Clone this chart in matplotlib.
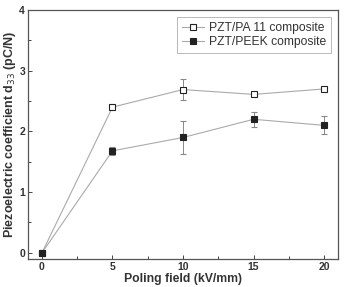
import numpy as np
import matplotlib
matplotlib.use("Agg")
import matplotlib.pyplot as plt
from matplotlib.ticker import MultipleLocator
from matplotlib.lines import Line2D

plt.rcParams['font.family'] = ['Liberation Sans', 'DejaVu Sans']

# data
field = [0, 5, 10, 15, 20]
pa11 = [0, 2.40, 2.69, 2.61, 2.70]
pa11_err = [0, 0.02, 0.18, 0.03, 0.02]
peek = [0, 1.68, 1.90, 2.20, 2.10]
peek_err = [0, 0.07, 0.27, 0.12, 0.15]
labels = ['PZT/PA 11 composite', 'PZT/PEEK composite']

fig = plt.figure(figsize=(3.44, 2.87), dpi=100)
ax = fig.add_axes([0.081, 0.098, 0.902, 0.867])

style = dict(color='#aaaaaa', lw=0.8, marker='s', ms=3.8, mec='#222222', mew=0.8)
ax.errorbar(field, pa11, yerr=pa11_err, mfc='white', ecolor='#888888',
            elinewidth=0.7, capsize=2, capthick=0.7, **style)
ax.errorbar(field, peek, yerr=peek_err, mfc='#222222', ecolor='#888888',
            elinewidth=0.7, capsize=2, capthick=0.7, **style)

ax.set_xlim(-1, 21)
ax.set_ylim(-0.1, 4)
ax.xaxis.set_major_locator(MultipleLocator(5))
ax.xaxis.set_minor_locator(MultipleLocator(2.5))
ax.yaxis.set_major_locator(MultipleLocator(1))
ax.yaxis.set_minor_locator(MultipleLocator(0.5))
ax.tick_params(which='both', direction='in', colors='#444444', labelcolor='#333333',
               labelsize=7.5, width=0.7, pad=2)
ax.tick_params(which='major', length=3)
ax.tick_params(which='minor', length=2)
for lab in ax.get_xticklabels() + ax.get_yticklabels():
    lab.set_fontweight('bold')
for s in ax.spines.values():
    s.set_color('#555555')
    s.set_linewidth(0.9)

ax.set_xlabel('Poling field (kV/mm)', fontsize=8.8, fontweight='bold', color='#333333', labelpad=1)
ax.set_ylabel('Piezoelectric coefficient d$_{33}$ (pC/N)', fontsize=9, fontweight='bold',
              color='#333333', labelpad=1)

handles = [Line2D([], [], mfc='white', **style), Line2D([], [], mfc='#222222', **style)]
leg = ax.legend(handles, labels, loc='upper right', fontsize=8.7, frameon=True, fancybox=False,
                edgecolor='#999999', handlelength=1.8, borderaxespad=0.6,
                labelspacing=0.15, borderpad=0.4, handletextpad=0.4)
leg.get_frame().set_linewidth(0.6)
for t in leg.get_texts():
    t.set_color('#333333')

fig.savefig('out.png', dpi=100)
